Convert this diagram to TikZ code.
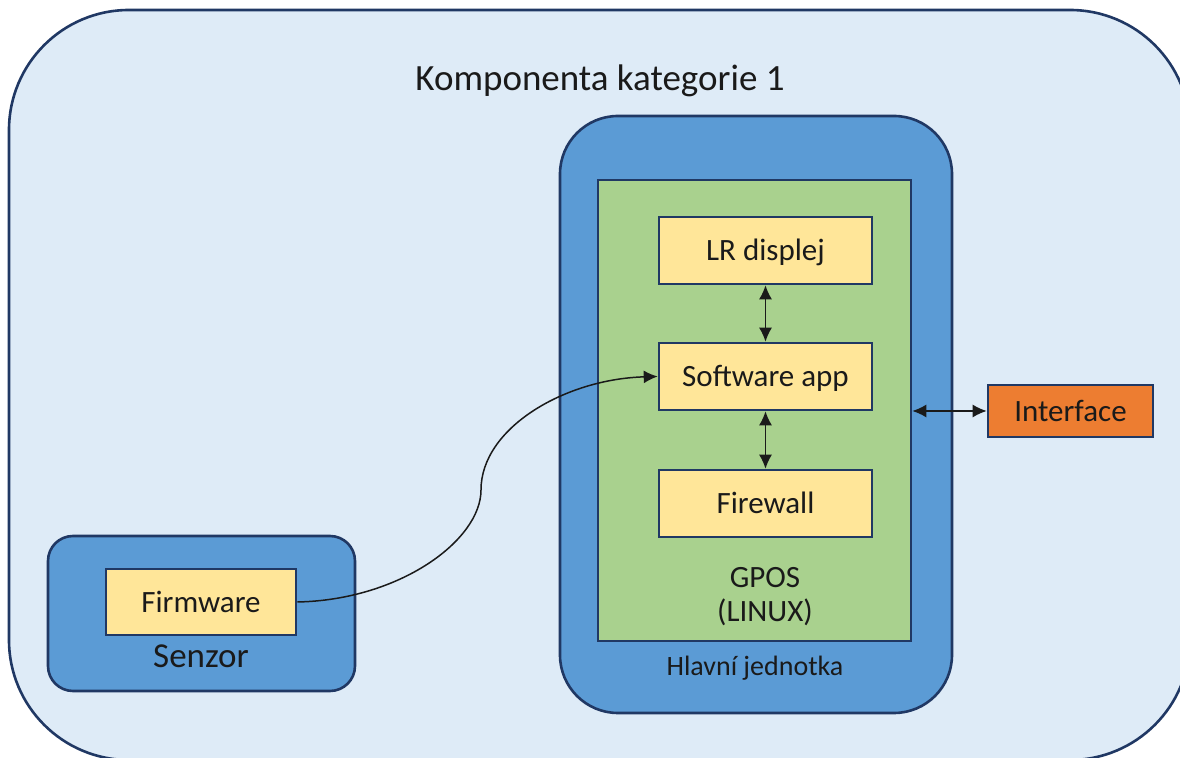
\documentclass[tikz,border=0pt]{standalone}
\usepackage{fontspec}
\setmainfont{Carlito}
\usetikzlibrary{arrows.meta}
\definecolor{navy}{HTML}{203864}
\definecolor{paleblue}{HTML}{DEEBF7}
\definecolor{midblue}{HTML}{5B9BD5}
\definecolor{leafgreen}{HTML}{A9D18E}
\definecolor{sand}{HTML}{FFE699}
\definecolor{tangerine}{HTML}{ED7D31}
\definecolor{ink}{HTML}{1A1A1A}
\begin{document}
\begin{tikzpicture}[x=0.5pt,y=-0.5pt,
  frame/.style={draw=navy,line width=1.3pt,inner sep=0pt},
  unitbox/.style={frame,fill=midblue},
  block/.style={frame,fill=sand,text=ink,minimum width=106.5pt,minimum height=33.5pt,
    font=\fontsize{15.5}{18}\selectfont,text depth=0.5pt},
  label/.style={text=ink,inner sep=0pt},
  link/.style={line width=0.75pt,draw=ink,{Latex[length=7pt,width=6.5pt]}-{Latex[length=7pt,width=6.5pt]}}
]
\useasboundingbox (0,0) rectangle (1180,758);
\clip (0,0) rectangle (1180,758);

% enclosing component
\node[frame,fill=paleblue,rounded corners=60pt,minimum width=590.5pt,minimum height=375pt]
  (comp) at (599.5,385) {};
\node[label,font=\fontsize{18.5}{22}\selectfont] (title) at (600,81) {Komponenta kategorie 1};

% main unit
\node[unitbox,rounded corners=29pt,minimum width=196pt,minimum height=298.5pt]
  (main) at (756,414.5) {};
\node[frame,fill=leafgreen,minimum width=156.5pt,minimum height=230.5pt]
  (gpos) at (754.5,410.5) {};
\node[block] (lr) at (765.5,250.5) {LR displej};
\node[block] (sw) at (765.5,376.5) {Software app};
\node[block] (fwall) at (765.5,503.5) {Firewall};
\node[label,align=center,font=\fontsize{15.5}{17}\selectfont] (gposlbl) at (765,597) {GPOS\\(LINUX)};
\node[label,font=\fontsize{14}{16}\selectfont] (mainlbl) at (755,668) {Hlavní jednotka};

% external interface
\node[frame,fill=tangerine,text=ink,minimum width=82.5pt,minimum height=26pt,
  font=\fontsize{15.5}{18}\selectfont,text depth=0.5pt] (iface) at (1070.5,411) {Interface};

% sensor
\node[unitbox,rounded corners=12.5pt,minimum width=153.5pt,minimum height=77.5pt]
  (senzor) at (201.5,613.5) {};
\node[block,minimum width=95pt,minimum height=33pt] (fw) at (201,602) {Firmware};
\node[label,font=\fontsize{17.5}{20}\selectfont] (senzorlbl) at (201,656) {Senzor};

% connectors
\draw[link] (lr.south) -- (sw.north);
\draw[link] (sw.south) -- (fwall.north);
\draw[link] (iface.west -| gpos.east) -- (iface.west);
\coordinate (bend) at (481,490);
\draw[line width=0.75pt,draw=ink,-{Latex[length=7pt,width=6.5pt]}]
  (fw.east) .. controls (400,600) and (481,540) .. (bend)
  .. controls (481,428) and (565,379) .. (sw.west);
\end{tikzpicture}
\end{document}
